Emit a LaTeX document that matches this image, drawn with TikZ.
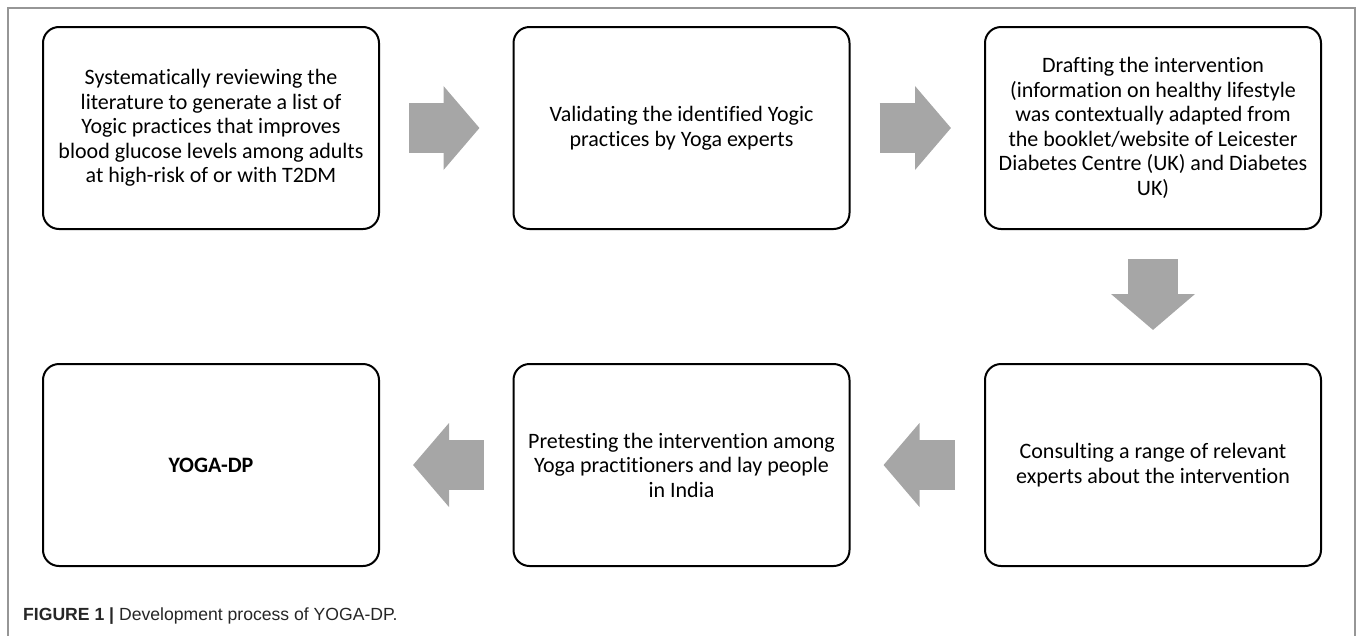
\documentclass[tikz,border=0pt]{standalone}
\usepackage{fontspec}
\setmainfont[Ligatures=NoCommon]{Carlito}
\newfontfamily\capfont{Liberation Sans}
\usepackage{tikz}
\usetikzlibrary{arrows.meta}

\definecolor{arrowgray}{RGB}{166,166,166}
\definecolor{framegray}{RGB}{150,150,150}

\begin{document}
\begin{tikzpicture}[x=1pt, y=-1pt,
		stage/.style={draw=black, line width=2pt, rounded corners=16pt, minimum width=336pt, minimum height=202pt, align=center, inner sep=0pt, font=\fontsize{22}{24.5}\selectfont},
		flow/.style={arrowgray, line width=50pt, shorten <=29pt, shorten >=33pt, -{Triangle[width=82pt,length=36pt]}}]
		
		\useasboundingbox (0,0) rectangle (1357,635);
		
		% frame
		\draw[framegray, line width=1.5pt] (8,640) -- (8,8) -- (1355,8) -- (1355,640);
		
		% top row
		\node[stage] (review) at (211,128) {Systematically reviewing the\\literature to generate a list of\\Yogic practices that improves\\blood glucose levels among adults\\at high-risk of or with T2DM};
		\node[stage] (validate) at (681.5,128) {Validating the identified Yogic\\practices by Yoga experts};
		\node[stage] (draft) at (1153,128) {Drafting the intervention\\(information on healthy lifestyle\\was contextually adapted from\\the booklet/website of Leicester\\Diabetes Centre (UK) and Diabetes\\UK)};
		
		% bottom row
		\node[stage] (yoga) at (211,465) {\textbf{YOGA-DP}};
		\node[stage] (pretest) at (681.5,465) {Pretesting the intervention among\\Yoga practitioners and lay people\\in India};
		\node[stage] (consult) at (1153,465) {Consulting a range of relevant\\experts about the intervention};
		
		% arrows
		\draw[flow] (review) -- (validate);
		\draw[flow] (validate) -- (draft);
		\draw[flow] (draft) -- (consult);
		\draw[flow] (consult) -- (pretest);
		\draw[flow] (pretest) -- (yoga);
		
		% caption
		\node[anchor=base west, inner sep=0pt, text=black!85, font=\capfont\fontsize{17.6}{20}\selectfont] (caption) at (23,620) {\textbf{FIGURE 1 |} Development process of YOGA-DP.};
		
\end{tikzpicture}
\end{document}
